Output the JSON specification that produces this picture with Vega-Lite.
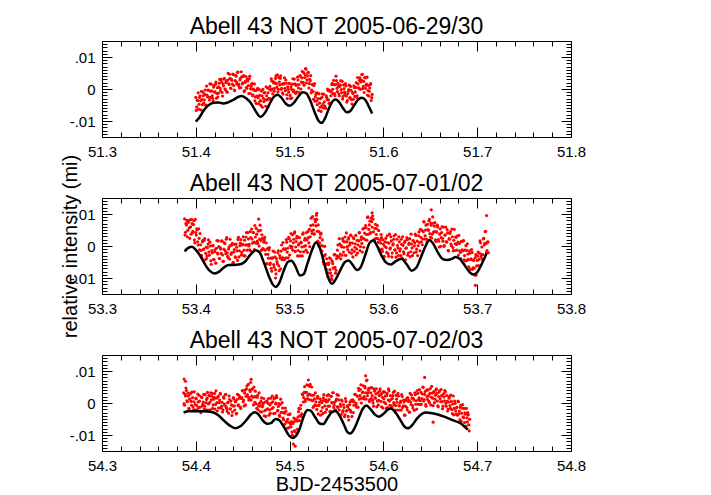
{
"$schema": "https://vega.github.io/schema/vega-lite/v6.json",
"padding": {"left": 60, "top": 15, "right": 5, "bottom": 0},
"spacing": 61,
"bounds": "flush",
"config": {
 "font": "Liberation Sans",
 "view": {"stroke": null},
 "title": {"fontSize": 23, "fontWeight": "normal", "color": "#000", "offset": 2, "frame": "group", "anchor": "middle", "font": "Liberation Sans"},
 "axis": {"domainColor": "#000", "tickColor": "#000", "labelColor": "#000", "titleColor": "#000", "labelFontSize": 15, "grid": false, "labelFlush": false, "labelOverlap": false, "titleFontWeight": "normal", "titleFontSize": 20, "tickWidth": 1, "domainWidth": 1, "labelFont": "Liberation Sans", "titleFont": "Liberation Sans"}
},
"datasets": {
"p1": [
{"t":51.400,"v":-0.0026},{"t":51.401,"v":-0.0056},{"t":51.402,"v":-0.0036},{"t":51.403,"v":-0.0063},{"t":51.404,"v":-0.0026},{"t":51.405,"v":-0.0037},{"t":51.406,"v":-0.0007},{"t":51.407,"v":-0.0049},{"t":51.408,"v":-0.0021},{"t":51.409,"v":-0.0034},
{"t":51.410,"v":-0.0003},{"t":51.411,"v":-0.0050},{"t":51.412,"v":-0.0019},{"t":51.413,"v":-0.0003},{"t":51.414,"v":-0.0025},{"t":51.415,"v":0.0016},{"t":51.416,"v":-0.0026},{"t":51.417,"v":-0.0006},{"t":51.418,"v":-0.0029},{"t":51.419,"v":0.0006},
{"t":51.420,"v":-0.0010},{"t":51.421,"v":0.0015},{"t":51.422,"v":-0.0029},{"t":51.423,"v":0.0004},{"t":51.424,"v":-0.0013},{"t":51.425,"v":0.0018},{"t":51.426,"v":0.0002},{"t":51.427,"v":0.0030},{"t":51.428,"v":-0.0011},{"t":51.429,"v":0.0016},
{"t":51.430,"v":0.0031},{"t":51.431,"v":0.0000},{"t":51.432,"v":0.0020},{"t":51.433,"v":-0.0008},{"t":51.434,"v":0.0028},{"t":51.435,"v":0.0017},{"t":51.436,"v":0.0046},{"t":51.437,"v":0.0003},{"t":51.438,"v":0.0030},{"t":51.439,"v":0.0015},
{"t":51.440,"v":0.0045},{"t":51.441,"v":-0.0003},{"t":51.442,"v":0.0026},{"t":51.443,"v":0.0040},{"t":51.444,"v":0.0015},{"t":51.445,"v":0.0053},{"t":51.446,"v":0.0009},{"t":51.447,"v":0.0028},{"t":51.448,"v":0.0004},{"t":51.449,"v":0.0038},
{"t":51.450,"v":0.0019},{"t":51.451,"v":0.0042},{"t":51.452,"v":-0.0005},{"t":51.453,"v":0.0025},{"t":51.454,"v":0.0005},{"t":51.455,"v":0.0032},{"t":51.456,"v":0.0011},{"t":51.457,"v":0.0032},{"t":51.458,"v":-0.0014},{"t":51.459,"v":0.0008},
{"t":51.460,"v":0.0017},{"t":51.461,"v":-0.0018},{"t":51.462,"v":-0.0004},{"t":51.463,"v":-0.0037},{"t":51.464,"v":-0.0005},{"t":51.465,"v":-0.0022},{"t":51.466,"v":0.0002},{"t":51.467,"v":-0.0046},{"t":51.468,"v":-0.0020},{"t":51.469,"v":-0.0036},
{"t":51.470,"v":-0.0007},{"t":51.471,"v":-0.0057},{"t":51.472,"v":-0.0029},{"t":51.473,"v":-0.0012},{"t":51.474,"v":-0.0034},{"t":51.475,"v":0.0007},{"t":51.476,"v":-0.0034},{"t":51.477,"v":-0.0012},{"t":51.478,"v":-0.0031},{"t":51.479,"v":0.0008},
{"t":51.480,"v":-0.0004},{"t":51.481,"v":0.0025},{"t":51.482,"v":-0.0015},{"t":51.483,"v":0.0019},{"t":51.484,"v":0.0002},{"t":51.485,"v":0.0033},{"t":51.486,"v":0.0017},{"t":51.487,"v":0.0044},{"t":51.488,"v":-0.0001},{"t":51.489,"v":0.0022},
{"t":51.490,"v":0.0033},{"t":51.491,"v":-0.0001},{"t":51.492,"v":0.0015},{"t":51.493,"v":-0.0016},{"t":51.494,"v":0.0017},{"t":51.495,"v":0.0002},{"t":51.496,"v":0.0028},{"t":51.497,"v":-0.0018},{"t":51.498,"v":0.0007},{"t":51.499,"v":-0.0010},
{"t":51.500,"v":0.0017},{"t":51.501,"v":-0.0030},{"t":51.502,"v":-0.0001},{"t":51.503,"v":0.0015},{"t":51.504,"v":-0.0008},{"t":51.505,"v":0.0031},{"t":51.506,"v":-0.0011},{"t":51.507,"v":0.0011},{"t":51.508,"v":-0.0009},{"t":51.509,"v":0.0028},
{"t":51.510,"v":0.0014},{"t":51.511,"v":0.0042},{"t":51.512,"v":0.0000},{"t":51.513,"v":0.0035},{"t":51.514,"v":0.0019},{"t":51.515,"v":0.0051},{"t":51.516,"v":0.0036},{"t":51.517,"v":0.0064},{"t":51.518,"v":0.0019},{"t":51.519,"v":0.0041},
{"t":51.520,"v":0.0052},{"t":51.521,"v":0.0017},{"t":51.522,"v":0.0026},{"t":51.523,"v":-0.0012},{"t":51.524,"v":0.0014},{"t":51.525,"v":-0.0008},{"t":51.526,"v":0.0011},{"t":51.527,"v":-0.0038},{"t":51.528,"v":-0.0017},{"t":51.529,"v":-0.0037},
{"t":51.530,"v":-0.0013},{"t":51.531,"v":-0.0067},{"t":51.532,"v":-0.0044},{"t":51.533,"v":-0.0030},{"t":51.534,"v":-0.0054},{"t":51.535,"v":-0.0016},{"t":51.536,"v":-0.0059},{"t":51.537,"v":-0.0040},{"t":51.538,"v":-0.0059},{"t":51.539,"v":-0.0021},
{"t":51.540,"v":-0.0033},{"t":51.541,"v":-0.0005},{"t":51.542,"v":-0.0045},{"t":51.543,"v":-0.0007},{"t":51.544,"v":-0.0021},{"t":51.545,"v":0.0014},{"t":51.546,"v":-0.0001},{"t":51.547,"v":0.0027},{"t":51.548,"v":-0.0014},{"t":51.549,"v":0.0014},
{"t":51.550,"v":0.0026},{"t":51.551,"v":-0.0008},{"t":51.552,"v":0.0009},{"t":51.553,"v":-0.0021},{"t":51.554,"v":0.0012},{"t":51.555,"v":-0.0002},{"t":51.556,"v":0.0024},{"t":51.557,"v":-0.0023},{"t":51.558,"v":0.0001},{"t":51.559,"v":-0.0017},
{"t":51.560,"v":0.0010},{"t":51.561,"v":-0.0041},{"t":51.562,"v":-0.0014},{"t":51.563,"v":-0.0002},{"t":51.564,"v":-0.0028},{"t":51.565,"v":0.0008},{"t":51.566,"v":-0.0033},{"t":51.567,"v":-0.0011},{"t":51.568,"v":-0.0032},{"t":51.569,"v":0.0005},
{"t":51.570,"v":-0.0009},{"t":51.571,"v":0.0020},{"t":51.572,"v":-0.0021},{"t":51.573,"v":0.0016},{"t":51.574,"v":0.0002},{"t":51.575,"v":0.0035},{"t":51.576,"v":0.0022},{"t":51.577,"v":0.0045},{"t":51.578,"v":0.0001},{"t":51.579,"v":0.0024},
{"t":51.580,"v":0.0036},{"t":51.581,"v":0.0002},{"t":51.582,"v":0.0015},{"t":51.583,"v":-0.0019},{"t":51.584,"v":0.0011},{"t":51.585,"v":-0.0007},{"t":51.586,"v":0.0014},{"t":51.587,"v":-0.0036},{"t":51.588,"v":-0.0017},
{"t":51.4005,"v":-0.0067},{"t":51.4015,"v":-0.0035},{"t":51.4025,"v":-0.0012},{"t":51.4035,"v":-0.0048},{"t":51.4045,"v":-0.0021},{"t":51.4055,"v":-0.0065},{"t":51.4065,"v":-0.0033},{"t":51.4075,"v":-0.0010},{"t":51.4085,"v":-0.0044},{"t":51.4095,"v":-0.0017},
{"t":51.4105,"v":-0.0051},{"t":51.4115,"v":0.0009},{"t":51.4125,"v":-0.0025},{"t":51.4135,"v":-0.0004},{"t":51.4145,"v":-0.0034},{"t":51.4155,"v":-0.0007},{"t":51.4165,"v":0.0015},{"t":51.4175,"v":-0.0021},{"t":51.4185,"v":-0.0037},{"t":51.4195,"v":0.0011},
{"t":51.4205,"v":-0.0009},{"t":51.4215,"v":0.0022},{"t":51.4225,"v":-0.0014},{"t":51.4235,"v":-0.0025},{"t":51.4245,"v":0.0007},{"t":51.4255,"v":0.0030},{"t":51.4265,"v":-0.0006},{"t":51.4275,"v":0.0022},{"t":51.4285,"v":-0.0022},{"t":51.4295,"v":0.0010},
{"t":51.4305,"v":0.0033},{"t":51.4315,"v":-0.0002},{"t":51.4325,"v":0.0025},{"t":51.4335,"v":-0.0010},{"t":51.4345,"v":0.0049},{"t":51.4355,"v":0.0014},{"t":51.4365,"v":0.0033},{"t":51.4375,"v":0.0002},{"t":51.4385,"v":0.0027},{"t":51.4395,"v":0.0047},
{"t":51.4405,"v":0.0011},{"t":51.4415,"v":-0.0005},{"t":51.4425,"v":0.0043},{"t":51.4435,"v":0.0022},{"t":51.4445,"v":0.0052},{"t":51.4455,"v":0.0015},{"t":51.4465,"v":0.0003},{"t":51.4475,"v":0.0033},{"t":51.4485,"v":0.0054},{"t":51.4495,"v":0.0016},
{"t":51.4505,"v":0.0039},{"t":51.4515,"v":-0.0008},{"t":51.4525,"v":0.0020},{"t":51.4535,"v":0.0039},{"t":51.4545,"v":0.0002},{"t":51.4555,"v":0.0025},{"t":51.4565,"v":-0.0014},{"t":51.4575,"v":0.0040},{"t":51.4585,"v":0.0000},{"t":51.4595,"v":0.0015},
{"t":51.4605,"v":-0.0021},{"t":51.4615,"v":0.0000},{"t":51.4625,"v":0.0016},{"t":51.4635,"v":-0.0025},{"t":51.4645,"v":-0.0045},{"t":51.4655,"v":-0.0002},{"t":51.4665,"v":-0.0027},{"t":51.4675,"v":-0.0001},{"t":51.4685,"v":-0.0038},{"t":51.4695,"v":-0.0051},
{"t":51.4705,"v":-0.0021},{"t":51.4715,"v":-0.0001},{"t":51.4725,"v":-0.0039},{"t":51.4735,"v":-0.0011},{"t":51.4745,"v":-0.0054},{"t":51.4755,"v":-0.0021},{"t":51.4765,"v":0.0003},{"t":51.4775,"v":-0.0030},{"t":51.4785,"v":0.0000},{"t":51.4795,"v":-0.0031},
{"t":51.4805,"v":0.0032},{"t":51.4815,"v":0.0000},{"t":51.4825,"v":0.0023},{"t":51.4835,"v":-0.0007},{"t":51.4845,"v":0.0019},{"t":51.4855,"v":0.0041},{"t":51.4865,"v":0.0006},{"t":51.4875,"v":-0.0009},{"t":51.4885,"v":0.0036},{"t":51.4895,"v":0.0013},
{"t":51.4905,"v":0.0041},{"t":51.4915,"v":0.0002},{"t":51.4925,"v":-0.0012},{"t":51.4935,"v":0.0016},{"t":51.4945,"v":0.0035},{"t":51.4955,"v":-0.0005},{"t":51.4965,"v":0.0018},{"t":51.4975,"v":-0.0030},{"t":51.4985,"v":-0.0001},{"t":51.4995,"v":0.0018},
{"t":51.5005,"v":-0.0020},{"t":51.5015,"v":0.0007},{"t":51.5025,"v":-0.0028},{"t":51.5035,"v":0.0032},{"t":51.5045,"v":-0.0003},{"t":51.5055,"v":0.0016},{"t":51.5065,"v":-0.0014},{"t":51.5075,"v":0.0013},{"t":51.5085,"v":0.0037},{"t":51.5095,"v":0.0003},
{"t":51.5105,"v":-0.0011},{"t":51.5115,"v":0.0040},{"t":51.5125,"v":0.0022},{"t":51.5135,"v":0.0055},{"t":51.5145,"v":0.0021},{"t":51.5155,"v":0.0012},{"t":51.5165,"v":0.0045},{"t":51.5175,"v":0.0062},{"t":51.5185,"v":0.0029},{"t":51.5195,"v":0.0051},
{"t":51.5205,"v":0.0003},{"t":51.5215,"v":0.0030},{"t":51.5225,"v":0.0042},{"t":51.5235,"v":-0.0003},{"t":51.5245,"v":0.0013},{"t":51.5255,"v":-0.0032},{"t":51.5265,"v":0.0017},{"t":51.5275,"v":-0.0025},{"t":51.5285,"v":-0.0012},{"t":51.5295,"v":-0.0049},
{"t":51.5305,"v":-0.0030},{"t":51.5315,"v":-0.0015},{"t":51.5325,"v":-0.0057},{"t":51.5335,"v":-0.0070},{"t":51.5345,"v":-0.0026},{"t":51.5355,"v":-0.0047},{"t":51.5365,"v":-0.0016},{"t":51.5375,"v":-0.0053},{"t":51.5385,"v":-0.0060},{"t":51.5395,"v":-0.0026},
{"t":51.5405,"v":0.0000},{"t":51.5415,"v":-0.0034},{"t":51.5425,"v":-0.0004},{"t":51.5435,"v":-0.0044},{"t":51.5445,"v":-0.0009},{"t":51.5455,"v":0.0018},{"t":51.5465,"v":-0.0015},{"t":51.5475,"v":0.0013},{"t":51.5485,"v":-0.0021},{"t":51.5495,"v":0.0040},
{"t":51.5505,"v":0.0002},{"t":51.5515,"v":0.0018},{"t":51.5525,"v":-0.0015},{"t":51.5535,"v":0.0008},{"t":51.5545,"v":0.0026},{"t":51.5555,"v":-0.0012},{"t":51.5565,"v":-0.0031},{"t":51.5575,"v":0.0013},{"t":51.5585,"v":-0.0010},{"t":51.5595,"v":0.0017},
{"t":51.5605,"v":-0.0022},{"t":51.5615,"v":-0.0036},{"t":51.5625,"v":-0.0007},{"t":51.5635,"v":0.0012},{"t":51.5645,"v":-0.0027},{"t":51.5655,"v":-0.0004},{"t":51.5665,"v":-0.0047},{"t":51.5675,"v":-0.0014},{"t":51.5685,"v":0.0010},{"t":51.5695,"v":-0.0023},
{"t":51.5705,"v":0.0005},{"t":51.5715,"v":-0.0026},{"t":51.5725,"v":0.0036},{"t":51.5735,"v":0.0004},{"t":51.5745,"v":0.0027},{"t":51.5755,"v":-0.0001},{"t":51.5765,"v":0.0028},{"t":51.5775,"v":0.0046},{"t":51.5785,"v":0.0008},{"t":51.5795,"v":-0.0011},
{"t":51.5805,"v":0.0035},{"t":51.5815,"v":0.0012},{"t":51.5825,"v":0.0037},{"t":51.5835,"v":-0.0005},{"t":51.5845,"v":-0.0022},{"t":51.5855,"v":0.0003},{"t":51.5865,"v":0.0017},{"t":51.5875,"v":-0.0027}
],
"l1": [
{"t":51.400,"v":-0.0102},{"t":51.404,"v":-0.0088},{"t":51.408,"v":-0.0069},{"t":51.413,"v":-0.0052},{"t":51.419,"v":-0.0043},{"t":51.424,"v":-0.0042},{"t":51.429,"v":-0.0045},{"t":51.434,"v":-0.0042},{"t":51.440,"v":-0.0034},{"t":51.445,"v":-0.0025},{"t":51.449,"v":-0.0022},{"t":51.454,"v":-0.0030},{"t":51.459,"v":-0.0045},{"t":51.464,"v":-0.0070},{"t":51.469,"v":-0.0087},{"t":51.474,"v":-0.0073},{"t":51.479,"v":-0.0045},{"t":51.483,"v":-0.0025},{"t":51.487,"v":-0.0018},{"t":51.491,"v":-0.0026},{"t":51.496,"v":-0.0046},{"t":51.500,"v":-0.0052},{"t":51.504,"v":-0.0045},{"t":51.509,"v":-0.0025},{"t":51.514,"v":-0.0010},{"t":51.518,"v":-0.0014},{"t":51.522,"v":-0.0036},{"t":51.527,"v":-0.0075},{"t":51.531,"v":-0.0100},{"t":51.534,"v":-0.0106},{"t":51.538,"v":-0.0090},{"t":51.542,"v":-0.0060},{"t":51.546,"v":-0.0038},{"t":51.549,"v":-0.0033},{"t":51.553,"v":-0.0042},{"t":51.557,"v":-0.0060},{"t":51.561,"v":-0.0073},{"t":51.565,"v":-0.0068},{"t":51.569,"v":-0.0050},{"t":51.573,"v":-0.0033},{"t":51.577,"v":-0.0027},{"t":51.581,"v":-0.0035},{"t":51.585,"v":-0.0058},{"t":51.588,"v":-0.0077}
],
"p2": [
{"t":53.388,"v":0.0085},{"t":53.389,"v":0.0043},{"t":53.390,"v":0.0066},{"t":53.391,"v":0.0029},{"t":53.392,"v":0.0074},{"t":53.393,"v":0.0057},{"t":53.394,"v":0.0082},{"t":53.395,"v":0.0037},{"t":53.396,"v":0.0070},{"t":53.397,"v":0.0046},
{"t":53.398,"v":0.0079},{"t":53.399,"v":0.0010},{"t":53.400,"v":0.0042},{"t":53.401,"v":0.0054},{"t":53.402,"v":0.0013},{"t":53.403,"v":0.0054},{"t":53.404,"v":-0.0012},{"t":53.405,"v":0.0004},{"t":53.406,"v":-0.0029},{"t":53.407,"v":0.0013},
{"t":53.408,"v":-0.0011},{"t":53.409,"v":0.0017},{"t":53.410,"v":-0.0043},{"t":53.411,"v":-0.0004},{"t":53.412,"v":-0.0031},{"t":53.413,"v":0.0006},{"t":53.414,"v":-0.0019},{"t":53.415,"v":0.0012},{"t":53.416,"v":-0.0046},{"t":53.417,"v":-0.0014},
{"t":53.418,"v":0.0001},{"t":53.419,"v":-0.0042},{"t":53.420,"v":-0.0018},{"t":53.421,"v":-0.0053},{"t":53.422,"v":-0.0007},{"t":53.423,"v":-0.0022},{"t":53.424,"v":0.0016},{"t":53.425,"v":-0.0039},{"t":53.426,"v":-0.0005},{"t":53.427,"v":-0.0023},
{"t":53.428,"v":0.0015},{"t":53.429,"v":-0.0048},{"t":53.430,"v":-0.0010},{"t":53.431,"v":0.0008},{"t":53.432,"v":-0.0024},{"t":53.433,"v":0.0026},{"t":53.434,"v":-0.0032},{"t":53.435,"v":-0.0009},{"t":53.436,"v":-0.0041},{"t":53.437,"v":0.0002},
{"t":53.438,"v":-0.0021},{"t":53.439,"v":0.0008},{"t":53.440,"v":-0.0051},{"t":53.441,"v":-0.0011},{"t":53.442,"v":-0.0034},{"t":53.443,"v":0.0006},{"t":53.444,"v":-0.0015},{"t":53.445,"v":0.0020},{"t":53.446,"v":-0.0034},{"t":53.447,"v":0.0001},
{"t":53.448,"v":0.0020},{"t":53.449,"v":-0.0020},{"t":53.450,"v":0.0005},{"t":53.451,"v":-0.0030},{"t":53.452,"v":0.0018},{"t":53.453,"v":0.0003},{"t":53.454,"v":0.0042},{"t":53.455,"v":-0.0013},{"t":53.456,"v":0.0022},{"t":53.457,"v":0.0005},
{"t":53.458,"v":0.0045},{"t":53.459,"v":-0.0017},{"t":53.460,"v":0.0022},{"t":53.461,"v":0.0042},{"t":53.462,"v":0.0012},{"t":53.463,"v":0.0064},{"t":53.464,"v":0.0009},{"t":53.465,"v":0.0037},{"t":53.466,"v":0.0008},{"t":53.467,"v":0.0048},
{"t":53.468,"v":0.0022},{"t":53.469,"v":0.0049},{"t":53.470,"v":-0.0013},{"t":53.471,"v":0.0024},{"t":53.472,"v":-0.0010},{"t":53.473,"v":0.0019},{"t":53.474,"v":-0.0013},{"t":53.475,"v":0.0010},{"t":53.476,"v":-0.0055},{"t":53.477,"v":-0.0026},
{"t":53.478,"v":-0.0012},{"t":53.479,"v":-0.0058},{"t":53.480,"v":-0.0038},{"t":53.481,"v":-0.0079},{"t":53.482,"v":-0.0037},{"t":53.483,"v":-0.0058},{"t":53.484,"v":-0.0019},{"t":53.485,"v":-0.0074},{"t":53.486,"v":-0.0039},{"t":53.487,"v":-0.0056},
{"t":53.488,"v":-0.0015},{"t":53.489,"v":-0.0077},{"t":53.490,"v":-0.0038},{"t":53.491,"v":-0.0016},{"t":53.492,"v":-0.0043},{"t":53.493,"v":0.0011},{"t":53.494,"v":-0.0041},{"t":53.495,"v":-0.0011},{"t":53.496,"v":-0.0037},{"t":53.497,"v":0.0012},
{"t":53.498,"v":-0.0007},{"t":53.499,"v":0.0027},{"t":53.500,"v":-0.0028},{"t":53.501,"v":0.0016},{"t":53.502,"v":-0.0006},{"t":53.503,"v":0.0035},{"t":53.504,"v":0.0010},{"t":53.505,"v":0.0040},{"t":53.506,"v":-0.0017},{"t":53.507,"v":0.0014},
{"t":53.508,"v":0.0030},{"t":53.509,"v":-0.0014},{"t":53.510,"v":0.0007},{"t":53.511,"v":-0.0031},{"t":53.512,"v":0.0012},{"t":53.513,"v":-0.0003},{"t":53.514,"v":0.0037},{"t":53.515,"v":-0.0018},{"t":53.516,"v":0.0018},{"t":53.517,"v":0.0001},
{"t":53.518,"v":0.0042},{"t":53.519,"v":-0.0020},{"t":53.520,"v":0.0026},{"t":53.521,"v":0.0052},{"t":53.522,"v":0.0029},{"t":53.523,"v":0.0087},{"t":53.524,"v":0.0039},{"t":53.525,"v":0.0066},{"t":53.526,"v":0.0037},{"t":53.527,"v":0.0083},
{"t":53.528,"v":0.0063},{"t":53.529,"v":0.0083},{"t":53.530,"v":0.0015},{"t":53.531,"v":0.0045},{"t":53.532,"v":0.0010},{"t":53.533,"v":0.0037},{"t":53.534,"v":0.0001},{"t":53.535,"v":0.0019},{"t":53.536,"v":-0.0050},{"t":53.537,"v":-0.0031},
{"t":53.538,"v":-0.0027},{"t":53.539,"v":-0.0073},{"t":53.540,"v":-0.0054},{"t":53.541,"v":-0.0095},{"t":53.542,"v":-0.0053},{"t":53.543,"v":-0.0074},{"t":53.544,"v":-0.0041},{"t":53.545,"v":-0.0093},{"t":53.546,"v":-0.0055},{"t":53.547,"v":-0.0069},
{"t":53.548,"v":-0.0026},{"t":53.549,"v":-0.0085},{"t":53.550,"v":-0.0039},{"t":53.551,"v":-0.0013},{"t":53.552,"v":-0.0035},{"t":53.553,"v":0.0023},{"t":53.554,"v":-0.0025},{"t":53.555,"v":0.0001},{"t":53.556,"v":-0.0029},{"t":53.557,"v":0.0016},
{"t":53.558,"v":-0.0004},{"t":53.559,"v":0.0028},{"t":53.560,"v":-0.0029},{"t":53.561,"v":0.0013},{"t":53.562,"v":-0.0011},{"t":53.563,"v":0.0026},{"t":53.564,"v":0.0003},{"t":53.565,"v":0.0034},{"t":53.566,"v":-0.0023},{"t":53.567,"v":0.0009},
{"t":53.568,"v":0.0026},{"t":53.569,"v":-0.0017},{"t":53.570,"v":0.0007},{"t":53.571,"v":-0.0028},{"t":53.572,"v":0.0018},{"t":53.573,"v":0.0003},{"t":53.574,"v":0.0041},{"t":53.575,"v":-0.0014},{"t":53.576,"v":0.0020},{"t":53.577,"v":0.0008},
{"t":53.578,"v":0.0053},{"t":53.579,"v":-0.0004},{"t":53.580,"v":0.0040},{"t":53.581,"v":0.0064},{"t":53.582,"v":0.0036},{"t":53.583,"v":0.0089},{"t":53.584,"v":0.0037},{"t":53.585,"v":0.0066},{"t":53.586,"v":0.0039},{"t":53.587,"v":0.0087},
{"t":53.588,"v":0.0059},{"t":53.589,"v":0.0084},{"t":53.590,"v":0.0020},{"t":53.591,"v":0.0055},{"t":53.592,"v":0.0024},{"t":53.593,"v":0.0054},{"t":53.594,"v":0.0023},{"t":53.595,"v":0.0048},{"t":53.596,"v":-0.0016},{"t":53.597,"v":0.0009},
{"t":53.598,"v":0.0026},{"t":53.599,"v":-0.0017},{"t":53.600,"v":0.0006},{"t":53.601,"v":-0.0032},{"t":53.602,"v":0.0013},{"t":53.603,"v":-0.0005},{"t":53.604,"v":0.0032},{"t":53.605,"v":-0.0024},{"t":53.606,"v":0.0009},{"t":53.607,"v":-0.0009},
{"t":53.608,"v":0.0029},{"t":53.609,"v":-0.0034},{"t":53.610,"v":0.0003},{"t":53.611,"v":0.0021},{"t":53.612,"v":-0.0012},{"t":53.613,"v":0.0036},{"t":53.614,"v":-0.0022},{"t":53.615,"v":0.0002},{"t":53.616,"v":-0.0030},{"t":53.617,"v":0.0013},
{"t":53.618,"v":-0.0009},{"t":53.619,"v":0.0021},{"t":53.620,"v":-0.0038},{"t":53.621,"v":0.0002},{"t":53.622,"v":-0.0024},{"t":53.623,"v":0.0015},{"t":53.624,"v":-0.0007},{"t":53.625,"v":0.0026},{"t":53.626,"v":-0.0029},{"t":53.627,"v":0.0005},
{"t":53.628,"v":0.0023},{"t":53.629,"v":-0.0018},{"t":53.630,"v":0.0006},{"t":53.631,"v":-0.0030},{"t":53.632,"v":0.0016},{"t":53.633,"v":0.0000},{"t":53.634,"v":0.0037},{"t":53.635,"v":-0.0019},{"t":53.636,"v":0.0015},{"t":53.637,"v":0.0001},
{"t":53.638,"v":0.0044},{"t":53.639,"v":-0.0015},{"t":53.640,"v":0.0027},{"t":53.641,"v":0.0049},{"t":53.642,"v":0.0022},{"t":53.643,"v":0.0076},{"t":53.644,"v":0.0022},{"t":53.645,"v":0.0050},{"t":53.646,"v":0.0022},{"t":53.647,"v":0.0068},
{"t":53.648,"v":0.0049},{"t":53.649,"v":0.0083},{"t":53.650,"v":0.0028},{"t":53.651,"v":0.0065},{"t":53.652,"v":0.0037},{"t":53.653,"v":0.0071},{"t":53.654,"v":0.0045},{"t":53.655,"v":0.0073},{"t":53.656,"v":0.0014},{"t":53.657,"v":0.0043},
{"t":53.658,"v":0.0059},{"t":53.659,"v":0.0015},{"t":53.660,"v":0.0037},{"t":53.661,"v":-0.0001},{"t":53.662,"v":0.0042},{"t":53.663,"v":0.0024},{"t":53.664,"v":0.0059},{"t":53.665,"v":0.0001},{"t":53.666,"v":0.0034},{"t":53.667,"v":0.0014},
{"t":53.668,"v":0.0051},{"t":53.669,"v":-0.0014},{"t":53.670,"v":0.0023},{"t":53.671,"v":0.0039},{"t":53.672,"v":0.0006},{"t":53.673,"v":0.0053},{"t":53.674,"v":-0.0005},{"t":53.675,"v":0.0018},{"t":53.676,"v":-0.0014},{"t":53.677,"v":0.0028},
{"t":53.678,"v":0.0005},{"t":53.679,"v":0.0032},{"t":53.680,"v":-0.0029},{"t":53.681,"v":0.0008},{"t":53.682,"v":-0.0020},{"t":53.683,"v":0.0014},{"t":53.684,"v":-0.0012},{"t":53.685,"v":0.0016},{"t":53.686,"v":-0.0043},{"t":53.687,"v":-0.0013},
{"t":53.688,"v":0.0001},{"t":53.689,"v":-0.0045},{"t":53.690,"v":-0.0025},{"t":53.691,"v":-0.0065},{"t":53.692,"v":-0.0023},{"t":53.693,"v":-0.0043},{"t":53.694,"v":-0.0011},{"t":53.695,"v":-0.0073},{"t":53.696,"v":-0.0045},{"t":53.697,"v":-0.0069},
{"t":53.698,"v":-0.0036},{"t":53.699,"v":-0.0091},{"t":53.700,"v":-0.0045},{"t":53.701,"v":-0.0019},{"t":53.702,"v":-0.0042},{"t":53.703,"v":0.0016},{"t":53.704,"v":-0.0034},{"t":53.705,"v":-0.0003},{"t":53.706,"v":-0.0027},{"t":53.707,"v":0.0024},
{"t":53.708,"v":0.0008},{"t":53.709,"v":0.0046},{"t":53.710,"v":-0.0020},{"t":53.711,"v":0.0012},{"t":53.712,"v":-0.0021},
{"t":53.710,"v":0.0095},{"t":53.698,"v":-0.0123},{"t":53.651,"v":0.0113},{"t":53.529,"v":0.0102},{"t":53.588,"v":0.0104},{"t":53.467,"v":0.0084},{"t":53.485,"v":-0.0100},{"t":53.545,"v":-0.0105},
{"t":53.3885,"v":0.0034},{"t":53.3895,"v":0.0070},{"t":53.3905,"v":0.0080},{"t":53.3915,"v":0.0049},{"t":53.3925,"v":0.0079},{"t":53.3935,"v":0.0024},{"t":53.3945,"v":0.0060},{"t":53.3955,"v":0.0083},{"t":53.3965,"v":0.0042},{"t":53.3975,"v":0.0067},
{"t":53.3985,"v":0.0019},{"t":53.3995,"v":0.0083},{"t":53.4005,"v":0.0034},{"t":53.4015,"v":0.0051},{"t":53.4025,"v":0.0003},{"t":53.4035,"v":0.0024},{"t":53.4045,"v":0.0039},{"t":53.4055,"v":-0.0014},{"t":53.4065,"v":-0.0037},{"t":53.4075,"v":0.0018},
{"t":53.4085,"v":-0.0010},{"t":53.4095,"v":0.0023},{"t":53.4105,"v":-0.0023},{"t":53.4115,"v":-0.0039},{"t":53.4125,"v":-0.0005},{"t":53.4135,"v":0.0019},{"t":53.4145,"v":-0.0029},{"t":53.4155,"v":0.0000},{"t":53.4165,"v":-0.0057},{"t":53.4175,"v":-0.0022},
{"t":53.4185,"v":0.0001},{"t":53.4195,"v":-0.0043},{"t":53.4205,"v":-0.0012},{"t":53.4215,"v":-0.0053},{"t":53.4225,"v":0.0017},{"t":53.4235,"v":-0.0025},{"t":53.4245,"v":-0.0002},{"t":53.4255,"v":-0.0039},{"t":53.4265,"v":-0.0009},{"t":53.4275,"v":0.0016},
{"t":53.4285,"v":-0.0028},{"t":53.4295,"v":-0.0048},{"t":53.4305,"v":0.0010},{"t":53.4315,"v":-0.0015},{"t":53.4325,"v":0.0021},{"t":53.4335,"v":-0.0022},{"t":53.4345,"v":-0.0037},{"t":53.4355,"v":-0.0003},{"t":53.4365,"v":0.0021},{"t":53.4375,"v":-0.0026},
{"t":53.4385,"v":0.0003},{"t":53.4395,"v":-0.0054},{"t":53.4405,"v":-0.0019},{"t":53.4415,"v":0.0005},{"t":53.4425,"v":-0.0036},{"t":53.4435,"v":-0.0004},{"t":53.4445,"v":-0.0045},{"t":53.4455,"v":0.0027},{"t":53.4465,"v":-0.0015},{"t":53.4475,"v":0.0009},
{"t":53.4485,"v":-0.0028},{"t":53.4495,"v":0.0003},{"t":53.4505,"v":0.0029},{"t":53.4515,"v":-0.0013},{"t":53.4525,"v":-0.0031},{"t":53.4535,"v":0.0028},{"t":53.4545,"v":0.0004},{"t":53.4555,"v":0.0042},{"t":53.4565,"v":0.0000},{"t":53.4575,"v":-0.0012},
{"t":53.4585,"v":0.0026},{"t":53.4595,"v":0.0053},{"t":53.4605,"v":0.0009},{"t":53.4615,"v":0.0042},{"t":53.4625,"v":-0.0011},{"t":53.4635,"v":0.0028},{"t":53.4645,"v":0.0055},{"t":53.4655,"v":0.0015},{"t":53.4665,"v":0.0047},{"t":53.4675,"v":0.0000},
{"t":53.4685,"v":0.0065},{"t":53.4695,"v":0.0017},{"t":53.4705,"v":0.0035},{"t":53.4715,"v":-0.0008},{"t":53.4725,"v":0.0012},{"t":53.4735,"v":0.0027},{"t":53.4745,"v":-0.0026},{"t":53.4755,"v":-0.0056},{"t":53.4765,"v":-0.0008},{"t":53.4775,"v":-0.0038},
{"t":53.4785,"v":-0.0005},{"t":53.4795,"v":-0.0053},{"t":53.4805,"v":-0.0070},{"t":53.4815,"v":-0.0038},{"t":53.4825,"v":-0.0016},{"t":53.4835,"v":-0.0066},{"t":53.4845,"v":-0.0034},{"t":53.4855,"v":-0.0087},{"t":53.4865,"v":-0.0049},{"t":53.4875,"v":-0.0022},
{"t":53.4885,"v":-0.0062},{"t":53.4895,"v":-0.0030},{"t":53.4905,"v":-0.0071},{"t":53.4915,"v":0.0003},{"t":53.4925,"v":-0.0036},{"t":53.4935,"v":-0.0009},{"t":53.4945,"v":-0.0043},{"t":53.4955,"v":-0.0009},{"t":53.4965,"v":0.0020},{"t":53.4975,"v":-0.0019},
{"t":53.4985,"v":-0.0037},{"t":53.4995,"v":0.0023},{"t":53.5005,"v":0.0000},{"t":53.5015,"v":0.0039},{"t":53.5025,"v":-0.0002},{"t":53.5035,"v":-0.0013},{"t":53.5045,"v":0.0021},{"t":53.5055,"v":0.0044},{"t":53.5065,"v":-0.0003},{"t":53.5075,"v":0.0025},
{"t":53.5085,"v":-0.0031},{"t":53.5095,"v":0.0003},{"t":53.5105,"v":0.0026},{"t":53.5115,"v":-0.0018},{"t":53.5125,"v":0.0010},{"t":53.5135,"v":-0.0031},{"t":53.5145,"v":0.0041},{"t":53.5155,"v":-0.0001},{"t":53.5165,"v":0.0024},{"t":53.5175,"v":-0.0013},
{"t":53.5185,"v":0.0019},{"t":53.5195,"v":0.0045},{"t":53.5205,"v":0.0010},{"t":53.5215,"v":-0.0002},{"t":53.5225,"v":0.0064},{"t":53.5235,"v":0.0047},{"t":53.5245,"v":0.0092},{"t":53.5255,"v":0.0050},{"t":53.5265,"v":0.0038},{"t":53.5275,"v":0.0076},
{"t":53.5285,"v":0.0096},{"t":53.5295,"v":0.0046},{"t":53.5305,"v":0.0066},{"t":53.5315,"v":0.0000},{"t":53.5325,"v":0.0026},{"t":53.5335,"v":0.0040},{"t":53.5345,"v":-0.0016},{"t":53.5355,"v":0.0000},{"t":53.5365,"v":-0.0056},{"t":53.5375,"v":-0.0001},
{"t":53.5385,"v":-0.0058},{"t":53.5395,"v":-0.0040},{"t":53.5405,"v":-0.0083},{"t":53.5415,"v":-0.0058},{"t":53.5425,"v":-0.0037},{"t":53.5435,"v":-0.0085},{"t":53.5445,"v":-0.0102},{"t":53.5455,"v":-0.0048},{"t":53.5465,"v":-0.0069},{"t":53.5475,"v":-0.0028},
{"t":53.5485,"v":-0.0067},{"t":53.5495,"v":-0.0076},{"t":53.5505,"v":-0.0031},{"t":53.5515,"v":0.0003},{"t":53.5525,"v":-0.0033},{"t":53.5535,"v":0.0006},{"t":53.5545,"v":-0.0040},{"t":53.5555,"v":-0.0003},{"t":53.5565,"v":0.0023},{"t":53.5575,"v":-0.0019},
{"t":53.5585,"v":0.0013},{"t":53.5595,"v":-0.0029},{"t":53.5605,"v":0.0041},{"t":53.5615,"v":-0.0002},{"t":53.5625,"v":0.0021},{"t":53.5635,"v":-0.0019},{"t":53.5645,"v":0.0010},{"t":53.5655,"v":0.0033},{"t":53.5665,"v":-0.0012},{"t":53.5675,"v":-0.0034},
{"t":53.5685,"v":0.0023},{"t":53.5695,"v":-0.0004},{"t":53.5705,"v":0.0033},{"t":53.5715,"v":-0.0009},{"t":53.5725,"v":-0.0022},{"t":53.5735,"v":0.0016},{"t":53.5745,"v":0.0042},{"t":53.5755,"v":-0.0002},{"t":53.5765,"v":0.0029},{"t":53.5775,"v":-0.0019},
{"t":53.5785,"v":0.0024},{"t":53.5795,"v":0.0056},{"t":53.5805,"v":0.0020},{"t":53.5815,"v":0.0057},{"t":53.5825,"v":0.0018},{"t":53.5835,"v":0.0091},{"t":53.5845,"v":0.0052},{"t":53.5855,"v":0.0078},{"t":53.5865,"v":0.0043},{"t":53.5875,"v":0.0076},
{"t":53.5885,"v":0.0094},{"t":53.5895,"v":0.0044},{"t":53.5905,"v":0.0017},{"t":53.5915,"v":0.0068},{"t":53.5925,"v":0.0036},{"t":53.5935,"v":0.0064},{"t":53.5945,"v":0.0012},{"t":53.5955,"v":-0.0009},{"t":53.5965,"v":0.0019},{"t":53.5975,"v":0.0036},
{"t":53.5985,"v":-0.0010},{"t":53.5995,"v":0.0019},{"t":53.6005,"v":-0.0036},{"t":53.6015,"v":-0.0001},{"t":53.6025,"v":0.0024},{"t":53.6035,"v":-0.0020},{"t":53.6045,"v":0.0010},{"t":53.6055,"v":-0.0032},{"t":53.6065,"v":0.0037},{"t":53.6075,"v":-0.0006},
{"t":53.6085,"v":0.0016},{"t":53.6095,"v":-0.0022},{"t":53.6105,"v":0.0007},{"t":53.6115,"v":0.0032},{"t":53.6125,"v":-0.0013},{"t":53.6135,"v":-0.0035},{"t":53.6145,"v":0.0021},{"t":53.6155,"v":-0.0006},{"t":53.6165,"v":0.0029},{"t":53.6175,"v":-0.0016},
{"t":53.6185,"v":-0.0030},{"t":53.6195,"v":0.0005},{"t":53.6205,"v":0.0029},{"t":53.6215,"v":-0.0018},{"t":53.6225,"v":0.0011},{"t":53.6235,"v":-0.0043},{"t":53.6245,"v":-0.0006},{"t":53.6255,"v":0.0020},{"t":53.6265,"v":-0.0022},{"t":53.6275,"v":0.0009},
{"t":53.6285,"v":-0.0033},{"t":53.6295,"v":0.0037},{"t":53.6305,"v":-0.0006},{"t":53.6315,"v":0.0017},{"t":53.6325,"v":-0.0021},{"t":53.6335,"v":0.0009},{"t":53.6345,"v":0.0033},{"t":53.6355,"v":-0.0010},{"t":53.6365,"v":-0.0030},{"t":53.6375,"v":0.0032},
{"t":53.6385,"v":0.0011},{"t":53.6395,"v":0.0052},{"t":53.6405,"v":0.0013},{"t":53.6415,"v":0.0004},{"t":53.6425,"v":0.0045},{"t":53.6435,"v":0.0075},{"t":53.6445,"v":0.0032},{"t":53.6455,"v":0.0065},{"t":53.6465,"v":0.0013},{"t":53.6475,"v":0.0051},
{"t":53.6485,"v":0.0079},{"t":53.6495,"v":0.0039},{"t":53.6505,"v":0.0072},{"t":53.6515,"v":0.0025},{"t":53.6525,"v":0.0091},{"t":53.6535,"v":0.0043},{"t":53.6545,"v":0.0062},{"t":53.6555,"v":0.0019},{"t":53.6565,"v":0.0045},{"t":53.6575,"v":0.0065},
{"t":53.6585,"v":0.0020},{"t":53.6595,"v":-0.0003},{"t":53.6605,"v":0.0053},{"t":53.6615,"v":0.0026},{"t":53.6625,"v":0.0060},{"t":53.6635,"v":0.0015},{"t":53.6645,"v":-0.0001},{"t":53.6655,"v":0.0034},{"t":53.6665,"v":0.0059},{"t":53.6675,"v":0.0012},
{"t":53.6685,"v":0.0041},{"t":53.6695,"v":-0.0015},{"t":53.6705,"v":0.0021},{"t":53.6715,"v":0.0045},{"t":53.6725,"v":0.0001},{"t":53.6735,"v":0.0029},{"t":53.6745,"v":-0.0015},{"t":53.6755,"v":0.0052},{"t":53.6765,"v":0.0007},{"t":53.6775,"v":0.0027},
{"t":53.6785,"v":-0.0013},{"t":53.6795,"v":0.0012},{"t":53.6805,"v":0.0033},{"t":53.6815,"v":-0.0015},{"t":53.6825,"v":-0.0039},{"t":53.6835,"v":0.0014},{"t":53.6845,"v":-0.0015},{"t":53.6855,"v":0.0017},{"t":53.6865,"v":-0.0030},{"t":53.6875,"v":-0.0047},
{"t":53.6885,"v":-0.0014},{"t":53.6895,"v":0.0007},{"t":53.6905,"v":-0.0042},{"t":53.6915,"v":-0.0015},{"t":53.6925,"v":-0.0073},{"t":53.6935,"v":-0.0040},{"t":53.6945,"v":-0.0020},{"t":53.6955,"v":-0.0068},{"t":53.6965,"v":-0.0043},{"t":53.6975,"v":-0.0091},
{"t":53.6985,"v":-0.0027},{"t":53.6995,"v":-0.0062},{"t":53.7005,"v":-0.0031},{"t":53.7015,"v":-0.0061},{"t":53.7025,"v":-0.0023},{"t":53.7035,"v":0.0010},{"t":53.7045,"v":-0.0027},{"t":53.7055,"v":-0.0042},{"t":53.7065,"v":0.0022},{"t":53.7075,"v":0.0003},
{"t":53.7085,"v":0.0045},{"t":53.7095,"v":0.0008},{"t":53.7105,"v":-0.0014},{"t":53.7115,"v":0.0013}
],
"l2": [
{"t":53.388,"v":-0.0017},{"t":53.392,"v":-0.0006},{"t":53.396,"v":-0.0002},{"t":53.400,"v":-0.0012},{"t":53.405,"v":-0.0032},{"t":53.410,"v":-0.0058},{"t":53.415,"v":-0.0078},{"t":53.420,"v":-0.0086},{"t":53.425,"v":-0.0080},{"t":53.430,"v":-0.0067},{"t":53.435,"v":-0.0059},{"t":53.440,"v":-0.0059},{"t":53.446,"v":-0.0058},{"t":53.452,"v":-0.0050},{"t":53.458,"v":-0.0028},{"t":53.464,"v":-0.0013},{"t":53.468,"v":-0.0020},{"t":53.473,"v":-0.0055},{"t":53.478,"v":-0.0095},{"t":53.482,"v":-0.0120},{"t":53.485,"v":-0.0128},{"t":53.489,"v":-0.0115},{"t":53.494,"v":-0.0075},{"t":53.498,"v":-0.0050},{"t":53.502,"v":-0.0046},{"t":53.506,"v":-0.0062},{"t":53.511,"v":-0.0092},{"t":53.515,"v":-0.0088},{"t":53.519,"v":-0.0055},{"t":53.524,"v":-0.0012},{"t":53.528,"v":0.0011},{"t":53.532,"v":-0.0005},{"t":53.537,"v":-0.0055},{"t":53.541,"v":-0.0098},{"t":53.545,"v":-0.0118},{"t":53.549,"v":-0.0105},{"t":53.554,"v":-0.0076},{"t":53.559,"v":-0.0050},{"t":53.563,"v":-0.0045},{"t":53.567,"v":-0.0058},{"t":53.572,"v":-0.0075},{"t":53.576,"v":-0.0065},{"t":53.581,"v":-0.0025},{"t":53.585,"v":0.0008},{"t":53.589,"v":0.0017},{"t":53.593,"v":0.0002},{"t":53.598,"v":-0.0030},{"t":53.603,"v":-0.0052},{"t":53.608,"v":-0.0058},{"t":53.613,"v":-0.0048},{"t":53.619,"v":-0.0040},{"t":53.625,"v":-0.0058},{"t":53.630,"v":-0.0077},{"t":53.635,"v":-0.0068},{"t":53.640,"v":-0.0035},{"t":53.645,"v":0.0000},{"t":53.649,"v":0.0019},{"t":53.653,"v":0.0008},{"t":53.658,"v":-0.0020},{"t":53.663,"v":-0.0040},{"t":53.668,"v":-0.0044},{"t":53.673,"v":-0.0040},{"t":53.677,"v":-0.0034},{"t":53.682,"v":-0.0042},{"t":53.687,"v":-0.0062},{"t":53.692,"v":-0.0082},{"t":53.696,"v":-0.0089},{"t":53.700,"v":-0.0082},{"t":53.705,"v":-0.0055},{"t":53.710,"v":-0.0023}
],
"p3": [
{"t":54.387,"v":0.0032},{"t":54.388,"v":-0.0007},{"t":54.389,"v":0.0022},{"t":54.390,"v":0.0039},{"t":54.391,"v":0.0004},{"t":54.392,"v":0.0022},{"t":54.393,"v":-0.0018},{"t":54.394,"v":0.0028},{"t":54.395,"v":0.0005},{"t":54.396,"v":0.0034},
{"t":54.397,"v":-0.0012},{"t":54.398,"v":0.0004},{"t":54.399,"v":-0.0021},{"t":54.400,"v":0.0015},{"t":54.401,"v":-0.0008},{"t":54.402,"v":0.0028},{"t":54.403,"v":-0.0015},{"t":54.404,"v":0.0006},{"t":54.405,"v":-0.0026},{"t":54.406,"v":0.0019},
{"t":54.407,"v":-0.0009},{"t":54.408,"v":0.0003},{"t":54.409,"v":-0.0019},{"t":54.410,"v":0.0026},{"t":54.411,"v":0.0001},{"t":54.412,"v":0.0015},{"t":54.413,"v":-0.0022},{"t":54.414,"v":0.0023},{"t":54.415,"v":0.0002},{"t":54.416,"v":0.0032},
{"t":54.417,"v":0.0021},{"t":54.418,"v":-0.0017},{"t":54.419,"v":0.0012},{"t":54.420,"v":0.0030},{"t":54.421,"v":-0.0005},{"t":54.422,"v":0.0015},{"t":54.423,"v":-0.0025},{"t":54.424,"v":0.0022},{"t":54.425,"v":0.0001},{"t":54.426,"v":0.0030},
{"t":54.427,"v":-0.0015},{"t":54.428,"v":0.0002},{"t":54.429,"v":-0.0021},{"t":54.430,"v":0.0015},{"t":54.431,"v":-0.0007},{"t":54.432,"v":0.0027},{"t":54.433,"v":-0.0018},{"t":54.434,"v":0.0001},{"t":54.435,"v":-0.0032},{"t":54.436,"v":0.0011},
{"t":54.437,"v":-0.0019},{"t":54.438,"v":-0.0006},{"t":54.439,"v":-0.0028},{"t":54.440,"v":0.0017},{"t":54.441,"v":-0.0009},{"t":54.442,"v":0.0005},{"t":54.443,"v":-0.0034},{"t":54.444,"v":0.0011},{"t":54.445,"v":-0.0008},{"t":54.446,"v":0.0024},
{"t":54.447,"v":0.0018},{"t":54.448,"v":-0.0017},{"t":54.449,"v":0.0017},{"t":54.450,"v":0.0039},{"t":54.451,"v":0.0009},{"t":54.452,"v":0.0031},{"t":54.453,"v":-0.0006},{"t":54.454,"v":0.0044},{"t":54.455,"v":0.0026},{"t":54.456,"v":0.0058},
{"t":54.457,"v":0.0016},{"t":54.458,"v":0.0036},{"t":54.459,"v":0.0009},{"t":54.460,"v":0.0043},{"t":54.461,"v":0.0018},{"t":54.462,"v":0.0050},{"t":54.463,"v":0.0002},{"t":54.464,"v":0.0019},{"t":54.465,"v":-0.0017},{"t":54.466,"v":0.0024},
{"t":54.467,"v":-0.0009},{"t":54.468,"v":-0.0001},{"t":54.469,"v":-0.0027},{"t":54.470,"v":0.0016},{"t":54.471,"v":-0.0012},{"t":54.472,"v":0.0000},{"t":54.473,"v":-0.0040},{"t":54.474,"v":0.0003},{"t":54.475,"v":-0.0021},{"t":54.476,"v":0.0007},
{"t":54.477,"v":-0.0001},{"t":54.478,"v":-0.0038},{"t":54.479,"v":-0.0006},{"t":54.480,"v":0.0015},{"t":54.481,"v":-0.0018},{"t":54.482,"v":0.0004},{"t":54.483,"v":-0.0033},{"t":54.484,"v":0.0016},{"t":54.485,"v":-0.0003},{"t":54.486,"v":0.0023},
{"t":54.487,"v":-0.0025},{"t":54.488,"v":-0.0011},{"t":54.489,"v":-0.0038},{"t":54.490,"v":-0.0005},{"t":54.491,"v":-0.0030},{"t":54.492,"v":0.0001},{"t":54.493,"v":-0.0047},{"t":54.494,"v":-0.0030},{"t":54.495,"v":-0.0066},{"t":54.496,"v":-0.0026},
{"t":54.497,"v":-0.0059},{"t":54.498,"v":-0.0051},{"t":54.499,"v":-0.0077},{"t":54.500,"v":-0.0036},{"t":54.501,"v":-0.0067},{"t":54.502,"v":-0.0058},{"t":54.503,"v":-0.0100},{"t":54.504,"v":-0.0060},{"t":54.505,"v":-0.0087},{"t":54.506,"v":-0.0050},
{"t":54.507,"v":-0.0052},{"t":54.508,"v":-0.0082},{"t":54.509,"v":-0.0044},{"t":54.510,"v":-0.0017},{"t":54.511,"v":-0.0039},{"t":54.512,"v":-0.0007},{"t":54.513,"v":-0.0034},{"t":54.514,"v":0.0026},{"t":54.515,"v":0.0017},{"t":54.516,"v":0.0051},
{"t":54.517,"v":0.0011},{"t":54.518,"v":0.0033},{"t":54.519,"v":0.0014},{"t":54.520,"v":0.0055},{"t":54.521,"v":0.0028},{"t":54.522,"v":0.0058},{"t":54.523,"v":0.0009},{"t":54.524,"v":0.0024},{"t":54.525,"v":-0.0014},{"t":54.526,"v":0.0025},
{"t":54.527,"v":-0.0006},{"t":54.528,"v":0.0004},{"t":54.529,"v":-0.0020},{"t":54.530,"v":0.0021},{"t":54.531,"v":-0.0008},{"t":54.532,"v":0.0003},{"t":54.533,"v":-0.0038},{"t":54.534,"v":0.0007},{"t":54.535,"v":-0.0014},{"t":54.536,"v":0.0016},
{"t":54.537,"v":0.0008},{"t":54.538,"v":-0.0029},{"t":54.539,"v":0.0003},{"t":54.540,"v":0.0023},{"t":54.541,"v":-0.0010},{"t":54.542,"v":0.0011},{"t":54.543,"v":-0.0027},{"t":54.544,"v":0.0021},{"t":54.545,"v":0.0001},{"t":54.546,"v":0.0032},
{"t":54.547,"v":-0.0014},{"t":54.548,"v":0.0002},{"t":54.549,"v":-0.0023},{"t":54.550,"v":0.0012},{"t":54.551,"v":-0.0011},{"t":54.552,"v":0.0024},{"t":54.553,"v":-0.0022},{"t":54.554,"v":-0.0003},{"t":54.555,"v":-0.0037},{"t":54.556,"v":0.0006},
{"t":54.557,"v":-0.0024},{"t":54.558,"v":-0.0014},{"t":54.559,"v":-0.0037},{"t":54.560,"v":0.0005},{"t":54.561,"v":-0.0024},{"t":54.562,"v":-0.0012},{"t":54.563,"v":-0.0053},{"t":54.564,"v":-0.0005},{"t":54.565,"v":-0.0024},{"t":54.566,"v":0.0009},
{"t":54.567,"v":0.0004},{"t":54.568,"v":-0.0030},{"t":54.569,"v":0.0004},{"t":54.570,"v":0.0027},{"t":54.571,"v":-0.0002},{"t":54.572,"v":0.0022},{"t":54.573,"v":-0.0013},{"t":54.574,"v":0.0039},{"t":54.575,"v":0.0023},{"t":54.576,"v":0.0057},
{"t":54.577,"v":0.0015},{"t":54.578,"v":0.0034},{"t":54.579,"v":0.0013},{"t":54.580,"v":0.0052},{"t":54.581,"v":0.0032},{"t":54.582,"v":0.0070},{"t":54.583,"v":0.0023},{"t":54.584,"v":0.0040},{"t":54.585,"v":0.0005},{"t":54.586,"v":0.0047},
{"t":54.587,"v":0.0014},{"t":54.588,"v":0.0023},{"t":54.589,"v":0.0000},{"t":54.590,"v":0.0044},{"t":54.591,"v":0.0016},{"t":54.592,"v":0.0028},{"t":54.593,"v":-0.0012},{"t":54.594,"v":0.0032},{"t":54.595,"v":0.0008},{"t":54.596,"v":0.0037},
{"t":54.597,"v":0.0026},{"t":54.598,"v":-0.0012},{"t":54.599,"v":0.0018},{"t":54.600,"v":0.0036},{"t":54.601,"v":0.0002},{"t":54.602,"v":0.0022},{"t":54.603,"v":-0.0017},{"t":54.604,"v":0.0030},{"t":54.605,"v":0.0009},{"t":54.606,"v":0.0038},
{"t":54.607,"v":-0.0007},{"t":54.608,"v":0.0011},{"t":54.609,"v":-0.0013},{"t":54.610,"v":0.0023},{"t":54.611,"v":0.0001},{"t":54.612,"v":0.0037},{"t":54.613,"v":-0.0008},{"t":54.614,"v":0.0012},{"t":54.615,"v":-0.0022},{"t":54.616,"v":0.0022},
{"t":54.617,"v":-0.0009},{"t":54.618,"v":0.0001},{"t":54.619,"v":-0.0022},{"t":54.620,"v":0.0020},{"t":54.621,"v":-0.0009},{"t":54.622,"v":0.0003},{"t":54.623,"v":-0.0038},{"t":54.624,"v":0.0008},{"t":54.625,"v":-0.0014},{"t":54.626,"v":0.0017},
{"t":54.627,"v":0.0009},{"t":54.628,"v":-0.0028},{"t":54.629,"v":0.0004},{"t":54.630,"v":0.0025},{"t":54.631,"v":-0.0008},{"t":54.632,"v":0.0014},{"t":54.633,"v":-0.0023},{"t":54.634,"v":0.0026},{"t":54.635,"v":0.0007},{"t":54.636,"v":0.0039},
{"t":54.637,"v":-0.0004},{"t":54.638,"v":0.0016},{"t":54.639,"v":-0.0005},{"t":54.640,"v":0.0033},{"t":54.641,"v":0.0014},{"t":54.642,"v":0.0050},{"t":54.643,"v":0.0006},{"t":54.644,"v":0.0027},{"t":54.645,"v":-0.0005},{"t":54.646,"v":0.0040},
{"t":54.647,"v":0.0011},{"t":54.648,"v":0.0023},{"t":54.649,"v":0.0001},{"t":54.650,"v":0.0045},{"t":54.651,"v":0.0018},{"t":54.652,"v":0.0031},{"t":54.653,"v":-0.0008},{"t":54.654,"v":0.0036},{"t":54.655,"v":0.0012},{"t":54.656,"v":0.0041},
{"t":54.657,"v":0.0030},{"t":54.658,"v":-0.0009},{"t":54.659,"v":0.0020},{"t":54.660,"v":0.0039},{"t":54.661,"v":0.0004},{"t":54.662,"v":0.0023},{"t":54.663,"v":-0.0018},{"t":54.664,"v":0.0029},{"t":54.665,"v":0.0007},{"t":54.666,"v":0.0035},
{"t":54.667,"v":-0.0010},{"t":54.668,"v":0.0006},{"t":54.669,"v":-0.0019},{"t":54.670,"v":0.0015},{"t":54.671,"v":-0.0008},{"t":54.672,"v":0.0025},{"t":54.673,"v":-0.0021},{"t":54.674,"v":-0.0003},{"t":54.675,"v":-0.0037},{"t":54.676,"v":0.0006},
{"t":54.677,"v":-0.0025},{"t":54.678,"v":-0.0015},{"t":54.679,"v":-0.0038},{"t":54.680,"v":0.0004},{"t":54.681,"v":-0.0025},{"t":54.682,"v":-0.0014},{"t":54.683,"v":-0.0057},{"t":54.684,"v":-0.0016},{"t":54.685,"v":-0.0043},{"t":54.686,"v":-0.0017},
{"t":54.687,"v":-0.0031},{"t":54.688,"v":-0.0072},{"t":54.689,"v":-0.0046},{"t":54.690,"v":-0.0030},{"t":54.691,"v":-0.0068},{"t":54.692,"v":-0.0051},
{"t":54.3875,"v":0.0075},{"t":54.389,"v":0.0068},{"t":54.459,"v":0.0074},{"t":54.506,"v":-0.0135},{"t":54.504,"v":-0.0128},{"t":54.520,"v":0.0072},{"t":54.581,"v":0.0085},{"t":54.644,"v":0.0080},{"t":54.653,"v":-0.0060},
{"t":54.3875,"v":-0.0002},{"t":54.3885,"v":0.0027},{"t":54.3895,"v":0.0047},{"t":54.3905,"v":0.0007},{"t":54.3915,"v":0.0031},{"t":54.3925,"v":-0.0017},{"t":54.3935,"v":0.0012},{"t":54.3945,"v":0.0031},{"t":54.3955,"v":-0.0007},{"t":54.3965,"v":0.0017},
{"t":54.3975,"v":-0.0021},{"t":54.3985,"v":0.0035},{"t":54.3995,"v":-0.0004},{"t":54.4005,"v":0.0013},{"t":54.4015,"v":-0.0021},{"t":54.4025,"v":0.0003},{"t":54.4035,"v":0.0024},{"t":54.4045,"v":-0.0013},{"t":54.4055,"v":-0.0030},{"t":54.4065,"v":0.0017},
{"t":54.4075,"v":-0.0003},{"t":54.4085,"v":0.0027},{"t":54.4095,"v":-0.0010},{"t":54.4105,"v":-0.0021},{"t":54.4115,"v":0.0011},{"t":54.4125,"v":0.0033},{"t":54.4135,"v":-0.0003},{"t":54.4145,"v":0.0023},{"t":54.4155,"v":-0.0021},{"t":54.4165,"v":0.0010},
{"t":54.4175,"v":0.0030},{"t":54.4185,"v":-0.0006},{"t":54.4195,"v":0.0018},{"t":54.4205,"v":-0.0019},{"t":54.4215,"v":0.0038},{"t":54.4225,"v":0.0001},{"t":54.4235,"v":0.0018},{"t":54.4245,"v":-0.0015},{"t":54.4255,"v":0.0009},{"t":54.4265,"v":0.0028},
{"t":54.4275,"v":-0.0010},{"t":54.4285,"v":-0.0028},{"t":54.4295,"v":0.0019},{"t":54.4305,"v":-0.0003},{"t":54.4315,"v":0.0026},{"t":54.4325,"v":-0.0013},{"t":54.4335,"v":-0.0026},{"t":54.4345,"v":0.0002},{"t":54.4355,"v":0.0022},{"t":54.4365,"v":-0.0018},
{"t":54.4375,"v":0.0006},{"t":54.4385,"v":-0.0039},{"t":54.4395,"v":-0.0009},{"t":54.4405,"v":0.0013},{"t":54.4415,"v":-0.0022},{"t":54.4425,"v":0.0004},{"t":54.4435,"v":-0.0032},{"t":54.4445,"v":0.0027},{"t":54.4455,"v":-0.0006},{"t":54.4465,"v":0.0015},
{"t":54.4475,"v":-0.0013},{"t":54.4485,"v":0.0014},{"t":54.4495,"v":0.0038},{"t":54.4505,"v":0.0004},{"t":54.4515,"v":-0.0009},{"t":54.4525,"v":0.0040},{"t":54.4535,"v":0.0021},{"t":54.4545,"v":0.0053},{"t":54.4555,"v":0.0019},{"t":54.4565,"v":0.0009},
{"t":54.4575,"v":0.0041},{"t":54.4585,"v":0.0064},{"t":54.4595,"v":0.0022},{"t":54.4605,"v":0.0044},{"t":54.4615,"v":-0.0006},{"t":54.4625,"v":0.0020},{"t":54.4635,"v":0.0037},{"t":54.4645,"v":-0.0003},{"t":54.4655,"v":0.0018},{"t":54.4665,"v":-0.0022},
{"t":54.4675,"v":0.0032},{"t":54.4685,"v":-0.0009},{"t":54.4695,"v":0.0005},{"t":54.4705,"v":-0.0028},{"t":54.4715,"v":-0.0005},{"t":54.4725,"v":0.0014},{"t":54.4735,"v":-0.0024},{"t":54.4745,"v":-0.0042},{"t":54.4755,"v":0.0004},{"t":54.4765,"v":-0.0018},
{"t":54.4775,"v":0.0014},{"t":54.4785,"v":-0.0022},{"t":54.4795,"v":-0.0032},{"t":54.4805,"v":0.0000},{"t":54.4815,"v":0.0022},{"t":54.4825,"v":-0.0014},{"t":54.4835,"v":0.0013},{"t":54.4845,"v":-0.0032},{"t":54.4855,"v":0.0000},{"t":54.4865,"v":0.0017},
{"t":54.4875,"v":-0.0023},{"t":54.4885,"v":-0.0002},{"t":54.4895,"v":-0.0042},{"t":54.4905,"v":0.0012},{"t":54.4915,"v":-0.0029},{"t":54.4925,"v":-0.0016},{"t":54.4935,"v":-0.0052},{"t":54.4945,"v":-0.0032},{"t":54.4955,"v":-0.0016},{"t":54.4965,"v":-0.0058},
{"t":54.4975,"v":-0.0079},{"t":54.4985,"v":-0.0036},{"t":54.4995,"v":-0.0061},{"t":54.5005,"v":-0.0034},{"t":54.5015,"v":-0.0075},{"t":54.5025,"v":-0.0091},{"t":54.5035,"v":-0.0064},{"t":54.5045,"v":-0.0047},{"t":54.5055,"v":-0.0089},{"t":54.5065,"v":-0.0056},
{"t":54.5075,"v":-0.0094},{"t":54.5085,"v":-0.0056},{"t":54.5095,"v":-0.0027},{"t":54.5105,"v":-0.0055},{"t":54.5115,"v":-0.0018},{"t":54.5125,"v":-0.0042},{"t":54.5135,"v":0.0028},{"t":54.5145,"v":0.0003},{"t":54.5155,"v":0.0033},{"t":54.5165,"v":0.0005},
{"t":54.5175,"v":0.0033},{"t":54.5185,"v":0.0057},{"t":54.5195,"v":0.0024},{"t":54.5205,"v":0.0011},{"t":54.5215,"v":0.0052},{"t":54.5225,"v":0.0025},{"t":54.5235,"v":0.0050},{"t":54.5245,"v":0.0007},{"t":54.5255,"v":-0.0011},{"t":54.5265,"v":0.0013},
{"t":54.5275,"v":0.0032},{"t":54.5285,"v":-0.0008},{"t":54.5295,"v":0.0015},{"t":54.5305,"v":-0.0034},{"t":54.5315,"v":-0.0006},{"t":54.5325,"v":0.0013},{"t":54.5335,"v":-0.0025},{"t":54.5345,"v":0.0001},{"t":54.5355,"v":-0.0033},{"t":54.5365,"v":0.0026},
{"t":54.5375,"v":-0.0009},{"t":54.5385,"v":0.0010},{"t":54.5395,"v":-0.0020},{"t":54.5405,"v":0.0005},{"t":54.5415,"v":0.0026},{"t":54.5425,"v":-0.0010},{"t":54.5435,"v":-0.0026},{"t":54.5445,"v":0.0021},{"t":54.5455,"v":0.0001},{"t":54.5465,"v":0.0032},
{"t":54.5475,"v":-0.0007},{"t":54.5485,"v":-0.0021},{"t":54.5495,"v":0.0007},{"t":54.5505,"v":0.0026},{"t":54.5515,"v":-0.0014},{"t":54.5525,"v":0.0010},{"t":54.5535,"v":-0.0038},{"t":54.5545,"v":-0.0010},{"t":54.5555,"v":0.0009},{"t":54.5565,"v":-0.0029},
{"t":54.5575,"v":-0.0005},{"t":54.5585,"v":-0.0043},{"t":54.5595,"v":0.0014},{"t":54.5605,"v":-0.0025},{"t":54.5615,"v":-0.0009},{"t":54.5625,"v":-0.0042},{"t":54.5635,"v":-0.0020},{"t":54.5645,"v":0.0004},{"t":54.5655,"v":-0.0029},{"t":54.5665,"v":-0.0042},
{"t":54.5675,"v":0.0010},{"t":54.5685,"v":-0.0007},{"t":54.5695,"v":0.0027},{"t":54.5705,"v":-0.0006},{"t":54.5715,"v":-0.0013},{"t":54.5725,"v":0.0021},{"t":54.5735,"v":0.0046},{"t":54.5745,"v":0.0012},{"t":54.5755,"v":0.0042},{"t":54.5765,"v":0.0000},
{"t":54.5775,"v":0.0032},{"t":54.5785,"v":0.0054},{"t":54.5795,"v":0.0020},{"t":54.5805,"v":0.0047},{"t":54.5815,"v":0.0012},{"t":54.5825,"v":0.0072},{"t":54.5835,"v":0.0032},{"t":54.5845,"v":0.0046},{"t":54.5855,"v":0.0011},{"t":54.5865,"v":0.0032},
{"t":54.5875,"v":0.0048},{"t":54.5885,"v":0.0008},{"t":54.5895,"v":-0.0010},{"t":54.5905,"v":0.0037},{"t":54.5915,"v":0.0015},{"t":54.5925,"v":0.0044},{"t":54.5935,"v":0.0006},{"t":54.5945,"v":-0.0006},{"t":54.5955,"v":0.0023},{"t":54.5965,"v":0.0044},
{"t":54.5975,"v":0.0005},{"t":54.5985,"v":0.0030},{"t":54.5995,"v":-0.0016},{"t":54.6005,"v":0.0013},{"t":54.6015,"v":0.0034},{"t":54.6025,"v":-0.0002},{"t":54.6035,"v":0.0023},{"t":54.6045,"v":-0.0014},{"t":54.6055,"v":0.0044},{"t":54.6065,"v":0.0006},
{"t":54.6075,"v":0.0023},{"t":54.6085,"v":-0.0009},{"t":54.6095,"v":0.0014},{"t":54.6105,"v":0.0033},{"t":54.6115,"v":-0.0005},{"t":54.6125,"v":-0.0022},{"t":54.6135,"v":0.0024},{"t":54.6145,"v":0.0002},{"t":54.6155,"v":0.0030},{"t":54.6165,"v":-0.0008},
{"t":54.6175,"v":-0.0022},{"t":54.6185,"v":0.0006},{"t":54.6195,"v":0.0026},{"t":54.6205,"v":-0.0014},{"t":54.6215,"v":0.0009},{"t":54.6225,"v":-0.0038},{"t":54.6235,"v":-0.0010},{"t":54.6245,"v":0.0013},{"t":54.6255,"v":-0.0022},{"t":54.6265,"v":0.0005},
{"t":54.6275,"v":-0.0029},{"t":54.6285,"v":0.0030},{"t":54.6295,"v":-0.0005},{"t":54.6305,"v":0.0015},{"t":54.6315,"v":-0.0016},{"t":54.6325,"v":0.0010},{"t":54.6335,"v":0.0032},{"t":54.6345,"v":-0.0004},{"t":54.6355,"v":-0.0019},{"t":54.6365,"v":0.0030},
{"t":54.6375,"v":0.0010},{"t":54.6385,"v":0.0042},{"t":54.6395,"v":0.0007},{"t":54.6405,"v":-0.0004},{"t":54.6415,"v":0.0028},{"t":54.6425,"v":0.0049},{"t":54.6435,"v":0.0011},{"t":54.6445,"v":0.0036},{"t":54.6455,"v":-0.0010},{"t":54.6465,"v":0.0020},
{"t":54.6475,"v":0.0041},{"t":54.6485,"v":0.0005},{"t":54.6495,"v":0.0030},{"t":54.6505,"v":-0.0006},{"t":54.6515,"v":0.0052},{"t":54.6525,"v":0.0015},{"t":54.6535,"v":0.0033},{"t":54.6545,"v":0.0001},{"t":54.6555,"v":0.0024},{"t":54.6565,"v":0.0044},
{"t":54.6575,"v":0.0006},{"t":54.6585,"v":-0.0012},{"t":54.6595,"v":0.0034},{"t":54.6605,"v":0.0013},{"t":54.6615,"v":0.0042},{"t":54.6625,"v":0.0004},{"t":54.6635,"v":-0.0010},{"t":54.6645,"v":0.0019},{"t":54.6655,"v":0.0039},{"t":54.6665,"v":-0.0001},
{"t":54.6675,"v":0.0023},{"t":54.6685,"v":-0.0025},{"t":54.6695,"v":0.0003},{"t":54.6705,"v":0.0021},{"t":54.6715,"v":-0.0017},{"t":54.6725,"v":0.0005},{"t":54.6735,"v":-0.0033},{"t":54.6745,"v":0.0022},{"t":54.6755,"v":-0.0017},{"t":54.6765,"v":-0.0001},
{"t":54.6775,"v":-0.0035},{"t":54.6785,"v":-0.0013},{"t":54.6795,"v":0.0006},{"t":54.6805,"v":-0.0033},{"t":54.6815,"v":-0.0052},{"t":54.6825,"v":-0.0007},{"t":54.6835,"v":-0.0032},{"t":54.6845,"v":-0.0005},{"t":54.6855,"v":-0.0046},{"t":54.6865,"v":-0.0061},
{"t":54.6875,"v":-0.0035},{"t":54.6885,"v":-0.0017},{"t":54.6895,"v":-0.0059},{"t":54.6905,"v":-0.0037},{"t":54.6915,"v":-0.0087}
],
"l3": [
{"t":54.387,"v":-0.0030},{"t":54.392,"v":-0.0026},{"t":54.400,"v":-0.0026},{"t":54.408,"v":-0.0026},{"t":54.417,"v":-0.0028},{"t":54.424,"v":-0.0038},{"t":54.430,"v":-0.0055},{"t":54.436,"v":-0.0070},{"t":54.442,"v":-0.0079},{"t":54.448,"v":-0.0072},{"t":54.454,"v":-0.0053},{"t":54.459,"v":-0.0035},{"t":54.463,"v":-0.0029},{"t":54.467,"v":-0.0036},{"t":54.471,"v":-0.0053},{"t":54.476,"v":-0.0065},{"t":54.480,"v":-0.0063},{"t":54.485,"v":-0.0050},{"t":54.489,"v":-0.0054},{"t":54.494,"v":-0.0075},{"t":54.499,"v":-0.0100},{"t":54.503,"v":-0.0109},{"t":54.507,"v":-0.0102},{"t":54.511,"v":-0.0078},{"t":54.515,"v":-0.0042},{"t":54.519,"v":-0.0022},{"t":54.522,"v":-0.0023},{"t":54.527,"v":-0.0043},{"t":54.532,"v":-0.0064},{"t":54.536,"v":-0.0066},{"t":54.540,"v":-0.0049},{"t":54.545,"v":-0.0029},{"t":54.549,"v":-0.0025},{"t":54.553,"v":-0.0038},{"t":54.558,"v":-0.0068},{"t":54.562,"v":-0.0092},{"t":54.565,"v":-0.0095},{"t":54.569,"v":-0.0080},{"t":54.574,"v":-0.0045},{"t":54.578,"v":-0.0018},{"t":54.582,"v":-0.0008},{"t":54.586,"v":-0.0018},{"t":54.591,"v":-0.0036},{"t":54.595,"v":-0.0043},{"t":54.600,"v":-0.0034},{"t":54.605,"v":-0.0020},{"t":54.608,"v":-0.0017},{"t":54.613,"v":-0.0030},{"t":54.618,"v":-0.0053},{"t":54.622,"v":-0.0072},{"t":54.626,"v":-0.0079},{"t":54.631,"v":-0.0068},{"t":54.636,"v":-0.0048},{"t":54.641,"v":-0.0034},{"t":54.646,"v":-0.0030},{"t":54.652,"v":-0.0032},{"t":54.658,"v":-0.0036},{"t":54.664,"v":-0.0042},{"t":54.670,"v":-0.0049},{"t":54.676,"v":-0.0056},{"t":54.682,"v":-0.0063},{"t":54.687,"v":-0.0075},{"t":54.690,"v":-0.0083}
]
},
"vconcat": [
{
 "width": 469, "height": 96,
 "title": "Abell 43 NOT 2005-06-29/30",
 "layer": [
  {"data": {"name": "p1"}, "mark": {"type": "circle", "size": 10, "color": "#ff0000", "opacity": 1},
   "encoding": {
    "x": {"field": "t", "type": "quantitative", "scale": {"domain": [51.3, 51.8], "nice": false, "zero": false},
      "axis": {"orient": "bottom", "title": null, "values": [51.3,51.32,51.34,51.36,51.38,51.4,51.42,51.44,51.46,51.48,51.5,51.52,51.54,51.56,51.58,51.6,51.62,51.64,51.66,51.68,51.7,51.72,51.74,51.76,51.78,51.8],
        "tickSize": {"condition": {"test": "abs(datum.value*10-round(datum.value*10))<0.01", "value": -10}, "value": -5},
        "labelExpr": "abs(datum.value*10-round(datum.value*10))<0.01 ? format(datum.value,'.1f') : ''", "labelPadding": 17}},
    "y": {"field": "v", "type": "quantitative", "scale": {"domain": [-0.015, 0.015], "nice": false, "zero": false},
      "axis": {"orient": "left", "title": "relative intensity (mi)", "titleFontSize": 20, "titleX": -32, "titleY": 205, "titleAngle": -90, "titleBaseline": "middle", "titleAlign": "center", "values": [-0.015,-0.014,-0.013,-0.012,-0.011,-0.01,-0.009,-0.008,-0.007,-0.006,-0.005,-0.004,-0.003,-0.002,-0.001,0,0.001,0.002,0.003,0.004,0.005,0.006,0.007,0.008,0.009,0.01,0.011,0.012,0.013,0.014,0.015],
        "tickSize": {"condition": {"test": "abs(datum.value*100-round(datum.value*100))<0.01", "value": -10}, "value": -5},
        "labelFontSize": {"condition": {"test": "abs(datum.value*100-round(datum.value*100))<0.01", "value": 15}, "value": 0},
        "labelExpr": "abs(datum.value-0.01)<1e-6 ? '.01' : abs(datum.value)<1e-6 ? '0' : abs(datum.value+0.01)<1e-6 ? '-.01' : ''", "labelPadding": 17}}
   }},
  {"data": {"name": "l1"}, "mark": {"type": "line", "color": "#000", "strokeWidth": 2.5, "interpolate": "monotone"},
   "encoding": {
    "x": {"field": "t", "type": "quantitative", "scale": {"domain": [51.3, 51.8], "nice": false, "zero": false},
      "axis": {"orient": "top", "title": null, "labels": false, "values": [51.3,51.32,51.34,51.36,51.38,51.4,51.42,51.44,51.46,51.48,51.5,51.52,51.54,51.56,51.58,51.6,51.62,51.64,51.66,51.68,51.7,51.72,51.74,51.76,51.78,51.8],
        "tickSize": {"condition": {"test": "abs(datum.value*10-round(datum.value*10))<0.01", "value": -10}, "value": -5}}},
    "y": {"field": "v", "type": "quantitative", "scale": {"domain": [-0.015, 0.015], "nice": false, "zero": false},
      "axis": {"orient": "right", "title": null, "labels": false, "values": [-0.015,-0.014,-0.013,-0.012,-0.011,-0.01,-0.009,-0.008,-0.007,-0.006,-0.005,-0.004,-0.003,-0.002,-0.001,0,0.001,0.002,0.003,0.004,0.005,0.006,0.007,0.008,0.009,0.01,0.011,0.012,0.013,0.014,0.015],
        "tickSize": {"condition": {"test": "abs(datum.value*100-round(datum.value*100))<0.01", "value": -10}, "value": -5}}}
   }}
 ]
},
{
 "width": 469, "height": 96,
 "title": "Abell 43 NOT 2005-07-01/02",
 "layer": [
  {"data": {"name": "p2"}, "mark": {"type": "circle", "size": 10, "color": "#ff0000", "opacity": 1},
   "encoding": {
    "x": {"field": "t", "type": "quantitative", "scale": {"domain": [53.3, 53.8], "nice": false, "zero": false},
      "axis": {"orient": "bottom", "title": null, "values": [53.3,53.32,53.34,53.36,53.38,53.4,53.42,53.44,53.46,53.48,53.5,53.52,53.54,53.56,53.58,53.6,53.62,53.64,53.66,53.68,53.7,53.72,53.74,53.76,53.78,53.8],
        "tickSize": {"condition": {"test": "abs(datum.value*10-round(datum.value*10))<0.01", "value": -10}, "value": -5},
        "labelExpr": "abs(datum.value*10-round(datum.value*10))<0.01 ? format(datum.value,'.1f') : ''", "labelPadding": 17}},
    "y": {"field": "v", "type": "quantitative", "scale": {"domain": [-0.015, 0.015], "nice": false, "zero": false},
      "axis": {"orient": "left", "title": null, "values": [-0.015,-0.014,-0.013,-0.012,-0.011,-0.01,-0.009,-0.008,-0.007,-0.006,-0.005,-0.004,-0.003,-0.002,-0.001,0,0.001,0.002,0.003,0.004,0.005,0.006,0.007,0.008,0.009,0.01,0.011,0.012,0.013,0.014,0.015],
        "tickSize": {"condition": {"test": "abs(datum.value*100-round(datum.value*100))<0.01", "value": -10}, "value": -5},
        "labelFontSize": {"condition": {"test": "abs(datum.value*100-round(datum.value*100))<0.01", "value": 15}, "value": 0},
        "labelExpr": "abs(datum.value-0.01)<1e-6 ? '.01' : abs(datum.value)<1e-6 ? '0' : abs(datum.value+0.01)<1e-6 ? '-.01' : ''", "labelPadding": 17}}
   }},
  {"data": {"name": "l2"}, "mark": {"type": "line", "color": "#000", "strokeWidth": 2.5, "interpolate": "monotone"},
   "encoding": {
    "x": {"field": "t", "type": "quantitative", "scale": {"domain": [53.3, 53.8], "nice": false, "zero": false},
      "axis": {"orient": "top", "title": null, "labels": false, "values": [53.3,53.32,53.34,53.36,53.38,53.4,53.42,53.44,53.46,53.48,53.5,53.52,53.54,53.56,53.58,53.6,53.62,53.64,53.66,53.68,53.7,53.72,53.74,53.76,53.78,53.8],
        "tickSize": {"condition": {"test": "abs(datum.value*10-round(datum.value*10))<0.01", "value": -10}, "value": -5}}},
    "y": {"field": "v", "type": "quantitative", "scale": {"domain": [-0.015, 0.015], "nice": false, "zero": false},
      "axis": {"orient": "right", "title": null, "labels": false, "values": [-0.015,-0.014,-0.013,-0.012,-0.011,-0.01,-0.009,-0.008,-0.007,-0.006,-0.005,-0.004,-0.003,-0.002,-0.001,0,0.001,0.002,0.003,0.004,0.005,0.006,0.007,0.008,0.009,0.01,0.011,0.012,0.013,0.014,0.015],
        "tickSize": {"condition": {"test": "abs(datum.value*100-round(datum.value*100))<0.01", "value": -10}, "value": -5}}}
   }}
 ]
},
{
 "width": 469, "height": 96,
 "title": "Abell 43 NOT 2005-07-02/03",
 "layer": [
  {"data": {"name": "p3"}, "mark": {"type": "circle", "size": 10, "color": "#ff0000", "opacity": 1},
   "encoding": {
    "x": {"field": "t", "type": "quantitative", "scale": {"domain": [54.3, 54.8], "nice": false, "zero": false},
      "axis": {"orient": "bottom", "title": "BJD-2453500", "titleFontSize": 20, "titleX": 234.5, "titleY": 39, "titleBaseline": "alphabetic", "titleAlign": "center", "values": [54.3,54.32,54.34,54.36,54.38,54.4,54.42,54.44,54.46,54.48,54.5,54.52,54.54,54.56,54.58,54.6,54.62,54.64,54.66,54.68,54.7,54.72,54.74,54.76,54.78,54.8],
        "tickSize": {"condition": {"test": "abs(datum.value*10-round(datum.value*10))<0.01", "value": -10}, "value": -5},
        "labelExpr": "abs(datum.value*10-round(datum.value*10))<0.01 ? format(datum.value,'.1f') : ''", "labelPadding": 17}},
    "y": {"field": "v", "type": "quantitative", "scale": {"domain": [-0.015, 0.015], "nice": false, "zero": false},
      "axis": {"orient": "left", "title": null, "values": [-0.015,-0.014,-0.013,-0.012,-0.011,-0.01,-0.009,-0.008,-0.007,-0.006,-0.005,-0.004,-0.003,-0.002,-0.001,0,0.001,0.002,0.003,0.004,0.005,0.006,0.007,0.008,0.009,0.01,0.011,0.012,0.013,0.014,0.015],
        "tickSize": {"condition": {"test": "abs(datum.value*100-round(datum.value*100))<0.01", "value": -10}, "value": -5},
        "labelFontSize": {"condition": {"test": "abs(datum.value*100-round(datum.value*100))<0.01", "value": 15}, "value": 0},
        "labelExpr": "abs(datum.value-0.01)<1e-6 ? '.01' : abs(datum.value)<1e-6 ? '0' : abs(datum.value+0.01)<1e-6 ? '-.01' : ''", "labelPadding": 17}}
   }},
  {"data": {"name": "l3"}, "mark": {"type": "line", "color": "#000", "strokeWidth": 2.5, "interpolate": "monotone"},
   "encoding": {
    "x": {"field": "t", "type": "quantitative", "scale": {"domain": [54.3, 54.8], "nice": false, "zero": false},
      "axis": {"orient": "top", "title": null, "labels": false, "values": [54.3,54.32,54.34,54.36,54.38,54.4,54.42,54.44,54.46,54.48,54.5,54.52,54.54,54.56,54.58,54.6,54.62,54.64,54.66,54.68,54.7,54.72,54.74,54.76,54.78,54.8],
        "tickSize": {"condition": {"test": "abs(datum.value*10-round(datum.value*10))<0.01", "value": -10}, "value": -5}}},
    "y": {"field": "v", "type": "quantitative", "scale": {"domain": [-0.015, 0.015], "nice": false, "zero": false},
      "axis": {"orient": "right", "title": null, "labels": false, "values": [-0.015,-0.014,-0.013,-0.012,-0.011,-0.01,-0.009,-0.008,-0.007,-0.006,-0.005,-0.004,-0.003,-0.002,-0.001,0,0.001,0.002,0.003,0.004,0.005,0.006,0.007,0.008,0.009,0.01,0.011,0.012,0.013,0.014,0.015],
        "tickSize": {"condition": {"test": "abs(datum.value*100-round(datum.value*100))<0.01", "value": -10}, "value": -5}}}
   }}
 ]
}
]
}
